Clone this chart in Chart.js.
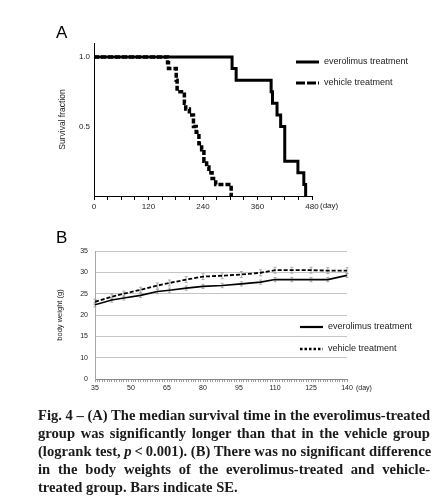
<!DOCTYPE html>
<html><head><meta charset="utf-8">
<script src="https://cdn.jsdelivr.net/npm/chart.js@4.4.1/dist/chart.umd.min.js"></script>
<style>
html,body{margin:0;padding:0;background:#fff;width:443px;height:499px;overflow:hidden}
#wrap{position:relative;width:443px;height:499px}
canvas{position:absolute;left:0}
#cA{top:0}
#cB{top:220px}
.big{position:absolute;font-family:"Liberation Sans",Arial,sans-serif;font-size:17px;line-height:17px;color:#000}
#la{left:56px;top:24px}
#lb{left:56px;top:229px}
.day{position:absolute;font-family:"Liberation Sans",Arial,sans-serif;color:#222;line-height:1}
#dayA{left:320px;top:202px;font-size:8px}
#dayB{left:356px;top:384px;font-size:7px}
#cap{position:absolute;left:38px;top:406px;width:392px;font-family:"Liberation Serif",serif;font-weight:bold;font-size:14.6px;line-height:18px;color:#1a1a1a}
#cap div{text-align:justify;text-align-last:justify;white-space:nowrap}
#cap div.last{text-align-last:left}
</style></head>
<body><div id="wrap">
<canvas id="cA" width="443" height="215"></canvas>
<canvas id="cB" width="443" height="180"></canvas>
<div class="big" id="la">A</div>
<div class="big" id="lb">B</div>
<div class="day" id="dayA">(day)</div>
<div class="day" id="dayB">(day)</div>
<div id="cap">
<div>Fig. 4 – (A) The median survival time in the everolimus-treated</div>
<div>group was significantly longer than that in the vehicle group</div>
<div>(logrank test, <i>p</i>&thinsp;&lt;&thinsp;0.001). (B) There was no significant difference</div>
<div>in the body weights of the everolimus-treated and vehicle-</div>
<div class="last">treated group. Bars indicate SE.</div>
</div>
</div>
<script>
// ---- Panel A: survival ----
const seriesNames = ['everolimus treatment', 'vehicle treatment'];
const everoDays = [0, 304, 313, 390, 393, 403, 411, 420, 449, 462, 466];
const everoSurv = [1, 0.917, 0.833, 0.75, 0.667, 0.583, 0.5, 0.25, 0.167, 0.083, 0];
const vehDays = [0, 162, 164, 181, 183, 199, 202, 210, 219, 225, 231, 237, 242, 248, 253, 260, 268, 302];
const vehSurv = [1, 0.958, 0.917, 0.833, 0.75, 0.667, 0.625, 0.583, 0.5, 0.458, 0.375, 0.333, 0.25, 0.208, 0.167, 0.125, 0.083, 0];
const xLabelsA = [0, 120, 240, 360, 480];
const yTicksA = [0.5, 1.0];

// ---- Panel B: body weight ----
const weightDays = [35, 42, 47, 54, 61, 66, 73, 80, 88, 96, 104, 110, 117, 125, 132, 140];
const everoWeight = [22.4, 23.5, 24.0, 24.6, 25.5, 25.8, 26.3, 26.7, 26.9, 27.3, 27.7, 28.3, 28.3, 28.3, 28.3, 29.3];
const everoSE =     [0.5, 0.5, 0.5, 0.5, 0.5, 0.5, 0.5, 0.5, 0.5, 0.5, 0.5, 0.5, 0.5, 0.5, 0.5, 0.5];
const vehWeight =   [23.1, 24.3, 25.0, 25.9, 26.9, 27.5, 28.3, 29.0, 29.2, 29.5, 29.9, 30.5, 30.5, 30.5, 30.4, 30.4];
const vehSE =       [0.6, 0.6, 0.6, 0.6, 0.6, 0.7, 0.7, 0.7, 0.7, 0.7, 0.7, 0.7, 0.7, 0.7, 0.7, 0.7];
const xLabelsB = [35, 50, 65, 80, 95, 110, 125, 140];
const yValsB = [5, 10, 15, 20, 25, 30, 35];
const yLabelsB = ['0', '10', '15', '20', '25', '30', '35'];

const toPts = (xs, ys) => xs.map((x, i) => ({x: x, y: ys[i]}));

function makeLegend(items, font) {
  return {
    id: 'posLegend',
    afterDraw(chart) {
      const ctx = chart.ctx;
      items.forEach((it, i) => {
        const ds = chart.data.datasets[i];
        ctx.save();
        ctx.strokeStyle = '#000';
        ctx.lineWidth = it.lw;
        ctx.setLineDash(it.dash || []);
        ctx.beginPath();
        ctx.moveTo(it.x, it.y);
        ctx.lineTo(it.x + it.len, it.y);
        ctx.stroke();
        ctx.setLineDash([]);
        ctx.font = font;
        ctx.fillStyle = '#222';
        ctx.textBaseline = 'middle';
        ctx.fillText(ds.label, it.x + it.len + it.gap, it.y);
        ctx.restore();
      });
    }
  };
}

const errorBars = {
  id: 'errorBars',
  beforeDatasetsDraw(chart) {
    const ctx = chart.ctx, xs = chart.scales.x, ys = chart.scales.y;
    chart.data.datasets.forEach(ds => {
      if (!ds.se) return;
      ctx.save();
      ctx.strokeStyle = '#9a9a9a';
      ctx.lineWidth = 0.8;
      ds.data.forEach((p, i) => {
        const px = xs.getPixelForValue(p.x);
        const y1 = ys.getPixelForValue(p.y - ds.se[i]);
        const y2 = ys.getPixelForValue(p.y + ds.se[i]);
        ctx.beginPath();
        ctx.moveTo(px, y1); ctx.lineTo(px, y2);
        ctx.moveTo(px - 1.5, y1); ctx.lineTo(px + 1.5, y1);
        ctx.moveTo(px - 1.5, y2); ctx.lineTo(px + 1.5, y2);
        ctx.stroke();
      });
      ctx.restore();
    });
  }
};

const sans = '"Liberation Sans", Arial, sans-serif';

new Chart(document.getElementById('cA'), {
  type: 'line',
  data: {datasets: [
    {label: seriesNames[0], data: toPts(everoDays, everoSurv), borderColor: '#000', borderWidth: 3, stepped: true, pointRadius: 0, fill: false},
    {label: seriesNames[1], data: toPts(vehDays, vehSurv), borderColor: '#000', borderWidth: 3.5, borderDash: [5, 2], stepped: true, pointRadius: 0, fill: false}
  ]},
  options: {
    responsive: false, animation: false,
    layout: {padding: {left: 54, top: 43, right: 131, bottom: 0}},
    plugins: {legend: {display: false}, tooltip: {enabled: false}},
    scales: {
      x: {
        type: 'linear', min: 0, max: 480,
        afterFit(s) { s.height = 19; },
        border: {display: true, color: '#000', width: 1},
        grid: {drawOnChartArea: false, drawTicks: true, tickLength: 4, color: '#000'},
        ticks: {stepSize: 30, autoSkip: false, maxRotation: 0, padding: 2, color: '#222',
          font: {family: sans, size: 8},
          callback: v => xLabelsA.includes(v) ? String(v) : ''}
      },
      y: {
        type: 'linear', min: 0, max: 1.1,
        afterFit(s) { s.width = 40; },
        afterBuildTicks(s) { s.ticks = yTicksA.map(v => ({value: v})); },
        border: {display: true, color: '#000', width: 1},
        grid: {display: false, drawTicks: false},
        ticks: {padding: 4, color: '#222', font: {family: sans, size: 8}, callback: v => Number(v).toFixed(1)},
        title: {display: true, text: 'Survival fraction', color: '#222', font: {family: sans, size: 8.5}, padding: {top: 4, bottom: 4}}
      }
    }
  },
  plugins: [makeLegend([
    {x: 296, y: 62, len: 23, gap: 5, lw: 3, dash: []},
    {x: 296, y: 83, len: 23, gap: 5, lw: 3, dash: [9, 2]}
  ], '9px ' + sans)]
});

new Chart(document.getElementById('cB'), {
  type: 'line',
  data: {datasets: [
    {label: seriesNames[0], data: toPts(weightDays, everoWeight), se: everoSE, borderColor: '#000', borderWidth: 1.6, pointRadius: 0, fill: false},
    {label: seriesNames[1], data: toPts(weightDays, vehWeight), se: vehSE, borderColor: '#000', borderWidth: 1.8, borderDash: [4, 2], pointRadius: 0, fill: false}
  ]},
  options: {
    responsive: false, animation: false,
    layout: {padding: {left: 51, top: 31, right: 96, bottom: 0}},
    plugins: {legend: {display: false}, tooltip: {enabled: false}},
    scales: {
      x: {
        type: 'linear', min: 35, max: 140,
        afterFit(s) { s.height = 21; },
        border: {display: true, color: '#8a8a8a', width: 1},
        grid: {drawOnChartArea: false, drawTicks: true, tickLength: 3, color: '#9a9a9a'},
        ticks: {stepSize: 1, autoSkip: false, maxRotation: 0, padding: 2, color: '#222',
          font: {family: sans, size: 7},
          callback: v => xLabelsB.includes(v) ? String(v) : ''}
      },
      y: {
        type: 'linear', min: 5, max: 35,
        afterFit(s) { s.width = 44; },
        afterBuildTicks(s) { s.ticks = yValsB.map(v => ({value: v})); },
        border: {display: true, color: '#a8a8a8', width: 1},
        grid: {drawTicks: false, color: c => (c.tick && c.tick.value === 5) ? 'rgba(0,0,0,0)' : '#c4c4c4'},
        ticks: {padding: 7, color: '#222', font: {family: sans, size: 7},
          callback: (v, i) => yLabelsB[yValsB.indexOf(v)]},
        title: {display: true, text: 'body weight (g)', color: '#222', font: {family: sans, size: 7.5}, padding: {top: 4, bottom: 4}}
      }
    }
  },
  plugins: [errorBars, makeLegend([
    {x: 300, y: 107, len: 23, gap: 5, lw: 2.2, dash: []},
    {x: 300, y: 129, len: 23, gap: 5, lw: 2.5, dash: [2.5, 2]}
  ], '9px ' + sans)]
});
</script>
</body></html>
